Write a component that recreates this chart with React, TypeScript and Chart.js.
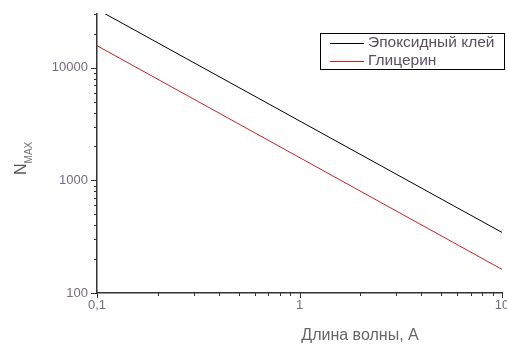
import React, { useEffect, useRef } from "react";
import { Chart, registerables } from "chart.js";

Chart.register(...registerables);

const wavelengths = [0.1, 10];
const epoxyValues = [33000, 345];
const glycerinValues = [15700, 162];
const seriesLabels = ["Эпоксидный клей", "Глицерин"];
const seriesColors = ["#000000", "#cc2222"];
const xTitle = "Длина волны, А";
const yTitleMain = "N";
const yTitleSub = "MAX";
const xMin = 0.1, xMax = 10, yMin = 100, yMax = 30000;

const FONT = "'Liberation Sans', Arial, sans-serif";
const TICK_COLOR = "#756b80";

const isPow10 = (v: number) => {
  const l = Math.log10(v);
  return Math.abs(l - Math.round(l)) < 1e-6;
};

const decorPlugin = {
  id: "decor",
  afterDraw(chart: any) {
    const ctx = chart.ctx as CanvasRenderingContext2D;
    const xs = chart.scales.x, ys = chart.scales.y;
    const { left, bottom } = chart.chartArea;
    ctx.save();
    ctx.strokeStyle = "#333";
    ctx.lineWidth = 1;
    // y ticks
    for (let e = 2; e <= 4; e++) {
      for (let m = 1; m <= 9; m++) {
        const v = m * Math.pow(10, e);
        if (v > yMax + 1e-6) break;
        const py = Math.round(ys.getPixelForValue(v)) + 0.5;
        const len = m === 1 ? 6 : 3;
        ctx.beginPath();
        ctx.moveTo(left - len, py);
        ctx.lineTo(left, py);
        ctx.stroke();
      }
    }
    // x ticks
    for (let e = -1; e <= 1; e++) {
      for (let m = 1; m <= 9; m++) {
        const v = m * Math.pow(10, e);
        if (v > xMax + 1e-6) break;
        const px = Math.round(xs.getPixelForValue(v)) + 0.5;
        const len = m === 1 ? 5 : 3;
        ctx.beginPath();
        ctx.moveTo(px, bottom);
        ctx.lineTo(px, bottom + len);
        ctx.stroke();
      }
    }
    // x title
    ctx.fillStyle = "#666";
    ctx.font = `16px ${FONT}`;
    ctx.textAlign = "center";
    ctx.textBaseline = "middle";
    ctx.fillText(xTitle, 360, 336);
    // y title (rotated)
    ctx.save();
    ctx.translate(26, 175);
    ctx.rotate(-Math.PI / 2);
    ctx.textAlign = "left";
    ctx.textBaseline = "alphabetic";
    ctx.fillStyle = "#555";
    ctx.font = `16px ${FONT}`;
    ctx.fillText(yTitleMain, 0, 0);
    const w = ctx.measureText(yTitleMain).width;
    ctx.font = `10px ${FONT}`;
    ctx.fillStyle = "#777";
    ctx.fillText(yTitleSub, w, 6);
    ctx.restore();
    // legend
    ctx.strokeStyle = "#000";
    ctx.lineWidth = 1;
    ctx.strokeRect(320.5, 33.5, 184, 36);
    ctx.font = `15.5px ${FONT}`;
    ctx.textAlign = "left";
    ctx.textBaseline = "middle";
    chart.data.datasets.forEach((ds: any, i: number) => {
      const yy = 43 + i * 18;
      ctx.strokeStyle = ds.borderColor;
      ctx.beginPath();
      ctx.moveTo(330, yy + 0.5);
      ctx.lineTo(364, yy + 0.5);
      ctx.stroke();
      ctx.fillStyle = "#5b4e63";
      ctx.fillText(ds.label, 368, yy);
    });
    ctx.restore();
  },
};

export default function App() {
  const ref = useRef<HTMLCanvasElement>(null);
  useEffect(() => {
    if (!ref.current) return;
    const chart = new Chart(ref.current, {
      type: "line",
      data: {
        datasets: [
          {
            label: seriesLabels[0],
            data: wavelengths.map((x, i) => ({ x, y: epoxyValues[i] })),
            borderColor: seriesColors[0],
            borderWidth: 1,
            pointRadius: 0,
            fill: false,
          },
          {
            label: seriesLabels[1],
            data: wavelengths.map((x, i) => ({ x, y: glycerinValues[i] })),
            borderColor: seriesColors[1],
            borderWidth: 1,
            pointRadius: 0,
            fill: false,
          },
        ],
      },
      options: {
        animation: false,
        responsive: false,
        layout: { padding: { top: 14, right: 5, left: 0, bottom: 0 } },
        plugins: { legend: { display: false }, tooltip: { enabled: false } },
        scales: {
          x: {
            type: "logarithmic",
            min: xMin,
            max: xMax,
            grid: { drawOnChartArea: false, drawTicks: true, tickLength: 4, color: "rgba(0,0,0,0)" },
            border: { display: true, color: "#333", width: 1.5 },
            ticks: {
              autoSkip: false,
              maxRotation: 0,
              padding: 1,
              color: TICK_COLOR,
              font: { family: FONT, size: 13 },
              callback: (v: any) => {
                const n = Number(v);
                if (!isPow10(n)) return "";
                return n < 1 ? String(n).replace(".", ",") : String(Math.round(n));
              },
            },
            afterFit: (s: any) => {
              s.height = 51;
              s.paddingLeft = 0;
              s.paddingRight = 0;
            },
          },
          y: {
            type: "logarithmic",
            min: yMin,
            max: yMax,
            grid: { drawOnChartArea: false, drawTicks: true, tickLength: 6, color: "rgba(0,0,0,0)" },
            border: { display: true, color: "#333", width: 1.5 },
            ticks: {
              autoSkip: false,
              padding: 3,
              color: TICK_COLOR,
              font: { family: FONT, size: 13 },
              callback: (v: any) => {
                const n = Number(v);
                if (!isPow10(n)) return "";
                return String(Math.round(n));
              },
            },
            afterFit: (s: any) => {
              s.width = 97;
              s.paddingTop = 0;
              s.paddingBottom = 0;
            },
          },
        },
      },
      plugins: [decorPlugin],
    } as any);
    return () => chart.destroy();
  }, []);
  return (
    <div style={{ position: "absolute", left: 0, top: 0, width: 507, height: 344 }}>
      <canvas ref={ref} width={507} height={344} style={{ display: "block" }} />
    </div>
  );
}
